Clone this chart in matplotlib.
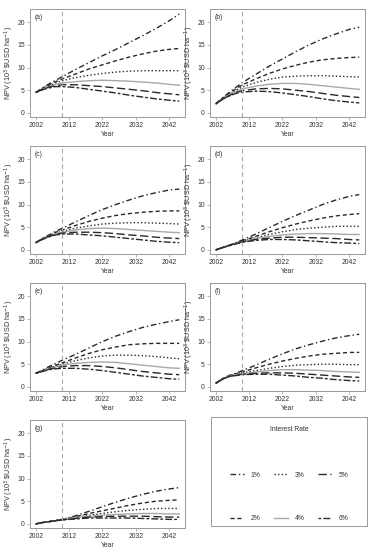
import matplotlib
matplotlib.use("Agg")
import matplotlib.pyplot as plt
from matplotlib.lines import Line2D

plt.rcParams['font.family'] = ['Liberation Sans', 'DejaVu Sans']

years = [2002, 2004, 2006, 2008, 2010, 2014, 2018, 2022, 2026, 2030, 2034, 2038, 2042, 2045]
rates = ['1%', '2%', '3%', '4%', '5%', '6%']
panel_labels = ['(a)', '(b)', '(c)', '(d)', '(e)', '(f)', '(g)']

npv_a = [
    [4.5, 5.5, 6.4, 7.2, 8.0, 9.6, 11.1, 12.6, 14.0, 15.5, 17.0, 18.6, 20.3, 21.8],
    [4.5, 5.4, 6.2, 6.9, 7.5, 8.6, 9.7, 10.6, 11.5, 12.3, 13.0, 13.6, 14.0, 14.2],
    [4.5, 5.3, 6.0, 6.6, 7.1, 7.8, 8.3, 8.7, 9.0, 9.2, 9.3, 9.3, 9.3, 9.3],
    [4.5, 5.2, 5.8, 6.3, 6.6, 6.9, 7.1, 7.2, 7.1, 7.0, 6.8, 6.6, 6.3, 6.1],
    [4.5, 5.2, 5.7, 6.0, 6.2, 6.2, 6.0, 5.8, 5.5, 5.2, 4.9, 4.5, 4.2, 4.0],
    [4.5, 5.1, 5.5, 5.8, 5.8, 5.6, 5.2, 4.8, 4.4, 3.9, 3.5, 3.1, 2.8, 2.6],
]
npv_b = [
    [2.0, 3.3, 4.5, 5.6, 6.7, 8.5, 10.3, 11.9, 13.5, 15.0, 16.3, 17.4, 18.4, 18.9],
    [2.0, 3.2, 4.3, 5.3, 6.2, 7.5, 8.7, 9.7, 10.5, 11.2, 11.7, 12.0, 12.2, 12.3],
    [2.0, 3.1, 4.1, 5.0, 5.7, 6.7, 7.4, 7.9, 8.1, 8.2, 8.2, 8.1, 8.0, 7.9],
    [2.0, 3.0, 4.0, 4.7, 5.3, 5.9, 6.3, 6.5, 6.5, 6.3, 6.0, 5.7, 5.4, 5.2],
    [2.0, 3.0, 3.8, 4.5, 4.9, 5.3, 5.4, 5.3, 5.0, 4.7, 4.3, 3.9, 3.6, 3.4],
    [2.0, 3.0, 3.7, 4.3, 4.6, 4.8, 4.7, 4.4, 4.0, 3.6, 3.1, 2.7, 2.4, 2.2],
]
npv_c = [
    [1.6, 2.5, 3.3, 4.1, 4.8, 6.2, 7.6, 8.9, 10.0, 11.0, 11.9, 12.6, 13.2, 13.4],
    [1.6, 2.5, 3.2, 3.9, 4.4, 5.4, 6.3, 7.0, 7.6, 8.0, 8.3, 8.5, 8.6, 8.6],
    [1.6, 2.4, 3.1, 3.7, 4.1, 4.8, 5.3, 5.7, 5.9, 6.0, 6.0, 5.9, 5.8, 5.7],
    [1.6, 2.4, 3.0, 3.5, 3.9, 4.4, 4.7, 4.8, 4.7, 4.5, 4.3, 4.1, 3.9, 3.8],
    [1.6, 2.4, 3.0, 3.4, 3.7, 3.9, 3.9, 3.8, 3.6, 3.3, 3.1, 2.8, 2.6, 2.5],
    [1.6, 2.3, 2.9, 3.3, 3.5, 3.5, 3.3, 3.1, 2.8, 2.5, 2.2, 1.9, 1.7, 1.6],
]
npv_d = [
    [0.0, 0.5, 1.0, 1.6, 2.2, 3.5, 4.9, 6.3, 7.6, 8.8, 10.0, 11.0, 11.8, 12.2],
    [0.0, 0.5, 1.0, 1.5, 2.0, 3.0, 4.0, 4.9, 5.7, 6.4, 7.0, 7.5, 7.8, 8.0],
    [0.0, 0.5, 1.0, 1.5, 1.9, 2.7, 3.4, 4.0, 4.5, 4.8, 5.0, 5.2, 5.2, 5.2],
    [0.0, 0.5, 1.0, 1.4, 1.8, 2.5, 3.0, 3.3, 3.5, 3.6, 3.6, 3.5, 3.4, 3.4],
    [0.0, 0.5, 1.0, 1.4, 1.8, 2.3, 2.6, 2.8, 2.8, 2.7, 2.6, 2.5, 2.3, 2.2],
    [0.0, 0.5, 0.9, 1.3, 1.7, 2.1, 2.3, 2.3, 2.2, 2.0, 1.8, 1.6, 1.5, 1.4],
]
npv_e = [
    [3.0, 3.7, 4.5, 5.2, 5.9, 7.2, 8.6, 10.0, 11.2, 12.2, 13.1, 13.8, 14.4, 14.8],
    [3.0, 3.6, 4.2, 4.8, 5.3, 6.4, 7.4, 8.2, 8.8, 9.3, 9.5, 9.6, 9.6, 9.6],
    [3.0, 3.6, 4.1, 4.6, 5.0, 5.8, 6.4, 6.8, 7.0, 7.0, 6.9, 6.7, 6.4, 6.2],
    [3.0, 3.5, 4.0, 4.4, 4.8, 5.2, 5.4, 5.5, 5.4, 5.1, 4.8, 4.5, 4.2, 4.1],
    [3.0, 3.5, 3.9, 4.2, 4.5, 4.7, 4.7, 4.5, 4.2, 3.8, 3.4, 3.1, 2.8, 2.7],
    [3.0, 3.4, 3.8, 4.0, 4.1, 4.1, 3.9, 3.6, 3.2, 2.8, 2.4, 2.1, 1.8, 1.7],
]
npv_f = [
    [0.8, 1.8, 2.5, 3.0, 3.6, 4.8, 6.1, 7.3, 8.4, 9.3, 10.1, 10.8, 11.3, 11.6],
    [0.8, 1.8, 2.5, 2.9, 3.3, 4.2, 5.0, 5.7, 6.3, 6.8, 7.2, 7.4, 7.6, 7.6],
    [0.8, 1.7, 2.4, 2.8, 3.1, 3.6, 4.1, 4.5, 4.8, 4.9, 5.0, 5.0, 4.9, 4.9],
    [0.8, 1.7, 2.4, 2.7, 2.9, 3.3, 3.6, 3.8, 3.8, 3.7, 3.6, 3.4, 3.3, 3.2],
    [0.8, 1.7, 2.3, 2.6, 2.8, 3.0, 3.1, 3.1, 3.0, 2.8, 2.6, 2.4, 2.2, 2.1],
    [0.8, 1.7, 2.3, 2.5, 2.7, 2.8, 2.8, 2.6, 2.4, 2.1, 1.9, 1.6, 1.4, 1.3],
]
npv_g = [
    [0.0, 0.3, 0.5, 0.8, 1.0, 1.8, 2.8, 3.8, 4.8, 5.7, 6.5, 7.2, 7.7, 8.0],
    [0.0, 0.3, 0.5, 0.8, 1.0, 1.6, 2.3, 2.9, 3.5, 4.1, 4.6, 5.0, 5.2, 5.3],
    [0.0, 0.3, 0.5, 0.7, 1.0, 1.5, 1.9, 2.3, 2.7, 3.0, 3.2, 3.4, 3.4, 3.4],
    [0.0, 0.3, 0.5, 0.7, 1.0, 1.4, 1.7, 1.9, 2.1, 2.2, 2.3, 2.3, 2.2, 2.2],
    [0.0, 0.3, 0.5, 0.7, 0.9, 1.2, 1.5, 1.6, 1.7, 1.7, 1.7, 1.6, 1.5, 1.5],
    [0.0, 0.3, 0.5, 0.7, 0.9, 1.1, 1.3, 1.3, 1.3, 1.3, 1.2, 1.1, 1.0, 1.0],
]
panels = [npv_a, npv_b, npv_c, npv_d, npv_e, npv_f, npv_g]

x_ticks = [2002, 2012, 2022, 2032, 2042]
y_ticks = [0, 5, 10, 15, 20]
ref_year = 2010

styles = [
    dict(color='#2a2a2a', ls=(0, (4, 2, 1, 2))),
    dict(color='#2a2a2a', ls=(0, (3, 2))),
    dict(color='#2a2a2a', ls=(0, (1, 1.6))),
    dict(color='#a8a8a8', ls='-'),
    dict(color='#2a2a2a', ls=(0, (6, 2.5))),
    dict(color='#2a2a2a', ls=(0, (2, 1.5, 5, 1.5))),
]

W, H = 377, 550
fig = plt.figure(figsize=(W / 100, H / 100), dpi=100)

col_left = [30, 210]
ax_w = 155
row_top = [9, 146, 283, 420]
ax_h = 108
frame_col = '#999999'
txt_col = '#333333'
fs = 4.9

def make_axes(px_left, px_top, w, h):
    return fig.add_axes([px_left / W, 1 - (px_top + h) / H, w / W, h / H])

for i, data in enumerate(panels):
    r, c = divmod(i, 2)
    ax = make_axes(col_left[c], row_top[r], ax_w, ax_h)
    for vals, st in zip(data, styles):
        ax.plot(years, vals, lw=1.0, **st)
    ax.axvline(ref_year, color='#aaaaaa', lw=0.8, ls=(0, (4, 3)))
    ax.set_xlim(2000.28, 2046.72)
    ax.set_ylim(-0.9, 22.9)
    ax.set_xticks(x_ticks)
    ax.set_yticks(y_ticks)
    ax.tick_params(direction='out', length=2.2, width=0.5, color=frame_col,
                   labelsize=fs, labelcolor=txt_col, pad=1.5)
    for sp in ax.spines.values():
        sp.set_color(frame_col)
        sp.set_linewidth(0.7)
    ax.set_xlabel('Year', fontsize=fs, color=txt_col, labelpad=1.5)
    ax.set_ylabel(r'NPV (10$^{3}$ \$USD ha$^{-1}$)', fontsize=5.2, color=txt_col, labelpad=1.2)
    ax.text(0.03, 0.95, panel_labels[i], transform=ax.transAxes, fontsize=fs,
            color=txt_col, va='top', ha='left')

# legend panel
lax = make_axes(211, 417, 156, 109)
lax.set_xticks([])
lax.set_yticks([])
for sp in lax.spines.values():
    sp.set_color(frame_col)
    sp.set_linewidth(0.7)
handles = [Line2D([], [], lw=1.0, **st) for st in styles]
leg = lax.legend(handles, rates, ncol=3, loc='upper center', bbox_to_anchor=(0.5, 0.97),
                 frameon=False, fontsize=fs, title='Interest Rate', title_fontsize=fs,
                 handlelength=2.0, handletextpad=1.0, columnspacing=2.0, labelspacing=5.4)
leg._legend_box.sep = 27.5
for t in leg.get_texts():
    t.set_color(txt_col)
leg.get_title().set_color(txt_col)

fig.savefig('out.png', dpi=100)
